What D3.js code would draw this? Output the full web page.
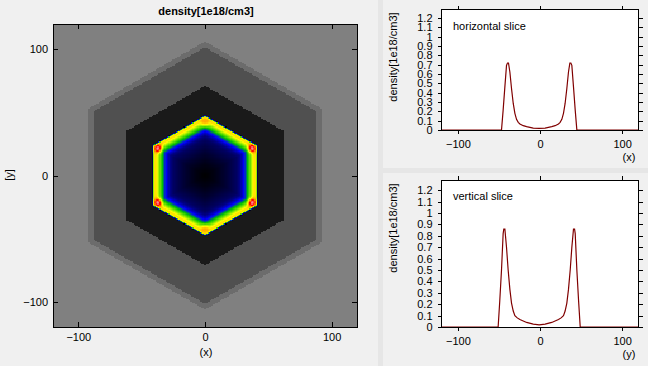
<!DOCTYPE html>
<html><head><meta charset="utf-8">
<script src="https://cdn.jsdelivr.net/npm/d3@7"></script>
<style>
html,body{margin:0;padding:0;background:#f0f0f0;overflow:hidden;}
svg{display:block;font-family:"Liberation Sans",Arial,sans-serif;}
</style></head><body>
<svg id="c" width="648" height="366"></svg>
<script>
// ---------- data ----------
const mapTicks = [-100, 0, 100];
const sliceTicksX = [-100, 0, 100];
const sliceTicksY = [0, 0.1, 0.2, 0.3, 0.4, 0.5, 0.6, 0.7, 0.8, 0.9, 1, 1.1, 1.2];

// horizontal slice (y = 0)
const hSliceX = [-120,-46.9,-44.9,-42.8,-40.8,-39.6,-38.4,-36.7,-34.7,-32.6,-30.6,-28.6,-26.5,-24.5,-20.4,-16.3,-8.2,-1,6.2,14.3,18.4,22.5,24.5,26.6,28.6,30.6,32.7,34.7,36.4,37.6,38.8,40.8,42.9,44.9,120];
const hSliceV = [0,0,0.213,0.462,0.692,0.717,0.717,0.621,0.444,0.284,0.178,0.114,0.082,0.064,0.046,0.036,0.021,0.018,0.021,0.036,0.046,0.064,0.082,0.114,0.178,0.284,0.444,0.621,0.717,0.717,0.692,0.462,0.213,0,0];

// vertical slice (x = 0)
const vSliceY = [-120,-51,-49,-46.9,-44.9,-44.1,-42.8,-40.8,-38.8,-36.7,-34.7,-32.6,-30.6,-27.7,-24.5,-16.3,-8.2,-1,6.2,14.3,22.5,25.7,28.6,30.6,32.7,34.7,36.8,38.8,40.8,42.1,42.9,44.9,47,49,120];
const vSliceV = [0,0,0.23,0.50,0.82,0.86,0.86,0.70,0.50,0.33,0.21,0.14,0.10,0.08,0.065,0.04,0.025,0.018,0.025,0.04,0.065,0.08,0.10,0.14,0.21,0.33,0.50,0.70,0.86,0.86,0.82,0.50,0.23,0,0];

// heat map: density profile across the hexagonal shell (hex distance -> density)
const ringH = [0, 8, 16, 22, 25, 27.5, 29.5, 31.5, 33.5, 35.5, 37.2, 38.8, 40.2, 41, 41.6];
const ringV = [0, 0.01, 0.025, 0.04, 0.05, 0.07, 0.11, 0.18, 0.3, 0.42, 0.55, 0.66, 0.64, 0.2, 0];
// density hot spots at the hexagon corners
const spotAngle = [90, 30, -30, -90, -150, 150];
const spotR     = [41.5, 42.5, 42.5, 41.5, 42.5, 42.5];
const spotAmp   = [0.25, 0.58, 0.58, 0.25, 0.58, 0.58];
// hexagonal zones (apothem) and their fill
const zoneApothem = [41.6, 61.5, 88, 92];
const zoneColor   = [null, "#1a1a1a", "#505050", "#6c6c6c"];
const outsideColor = "#808080";
// colour map
const cmapV = [0, 0.04, 0.09, 0.15, 0.3, 0.45, 0.6, 0.8, 0.95, 1.25];
const cmapC = ["#000000","#000050","#0000a8","#0000ff","#00c000","#80e800","#ffff00","#ff9000","#ff0000","#ffffff"];

// ---------- drawing ----------
const svg = d3.select("#c");
const FONT = 11;

// panel separators
svg.append("rect").attr("x",378).attr("y",0).attr("width",5).attr("height",366).attr("fill","#e6e6e6");
svg.append("rect").attr("x",383).attr("y",168).attr("width",265).attr("height",5).attr("fill","#e6e6e6");

// ===== left heat map =====
const L = {l:53, r:357, t:24, b:327};
const mx = d3.scaleLinear().domain([-120,120]).range([L.l, L.r]);
const my = d3.scaleLinear().domain([-120,120]).range([L.b, L.t]);
const ring = d3.scaleLinear().domain(ringH).range(ringV).clamp(true);
const cmap = d3.scaleLinear().domain(cmapV).range(cmapC).clamp(true);
const S3 = Math.sqrt(3)/2;
const spots = spotAngle.map((a,i)=>({x: spotR[i]*Math.cos(a*Math.PI/180), y: spotR[i]*Math.sin(a*Math.PI/180), a: spotAmp[i]}));

const W = L.r - L.l, H = L.b - L.t;
const cv = document.createElement("canvas");
cv.width = W; cv.height = H;
const ctx = cv.getContext("2d");
const img = ctx.createImageData(W, H);
for (let py = 0; py < H; py++) {
  for (let px = 0; px < W; px++) {
    const x0 = mx.invert(L.l + px + 0.5), y0 = my.invert(L.t + py + 0.5);
    const x = Math.floor(x0) + 0.5, y = Math.floor(y0) + 0.5;
    const h = Math.max(Math.abs(x), Math.abs(x/2 + y*S3), Math.abs(x/2 - y*S3));
    let col;
    if (h <= zoneApothem[0]) {
      let v = ring(h);
      for (const s of spots) {
        const d2 = (x-s.x)*(x-s.x) + (y-s.y)*(y-s.y);
        v += s.a * Math.exp(-d2/8);
      }
      col = cmap(v);
    } else if (h <= zoneApothem[1]) col = zoneColor[1];
    else if (h <= zoneApothem[2]) col = zoneColor[2];
    else if (h <= zoneApothem[3]) col = zoneColor[3];
    else col = outsideColor;
    const c = d3.rgb(col);
    const k = (py*W + px)*4;
    img.data[k] = c.r; img.data[k+1] = c.g; img.data[k+2] = c.b; img.data[k+3] = 255;
  }
}
ctx.putImageData(img, 0, 0);
svg.append("image").attr("x", L.l).attr("y", L.t).attr("width", W).attr("height", H)
  .attr("preserveAspectRatio","none").attr("href", cv.toDataURL());

function styleAxis(g){
  g.select(".domain").remove();
  g.selectAll("line").attr("stroke","#000").attr("shape-rendering","crispEdges");
  g.selectAll("text").attr("font-size",FONT).attr("fill","#000").attr("font-family","'Liberation Sans',Arial,sans-serif");
}
svg.append("g").attr("transform",`translate(0,${L.b})`).call(d3.axisBottom(mx).tickValues(mapTicks).tickSizeInner(-5).tickSizeOuter(0).tickPadding(6)).call(styleAxis);
svg.append("g").attr("transform",`translate(0,${L.t})`).call(d3.axisTop(mx).tickValues(mapTicks).tickSizeInner(-5).tickSizeOuter(0).tickFormat("")).call(styleAxis);
svg.append("g").attr("transform",`translate(${L.l},0)`).call(d3.axisLeft(my).tickValues(mapTicks).tickSizeInner(-5).tickSizeOuter(0).tickPadding(5)).call(styleAxis);
svg.append("g").attr("transform",`translate(${L.r},0)`).call(d3.axisRight(my).tickValues(mapTicks).tickSizeInner(-5).tickSizeOuter(0).tickFormat("")).call(styleAxis);
svg.append("rect").attr("x",L.l).attr("y",L.t).attr("width",W).attr("height",H)
  .attr("fill","none").attr("stroke","#000").attr("shape-rendering","crispEdges");

svg.append("text").attr("x",206).attr("y",15).attr("text-anchor","middle")
  .attr("font-size",FONT).attr("font-weight","bold").text("density[1e18/cm3]");
svg.append("text").attr("x",206).attr("y",356).attr("text-anchor","middle").attr("font-size",FONT).text("(x)");
svg.append("text").attr("transform","translate(13,175) rotate(-90)").attr("text-anchor","middle").attr("font-size",FONT).text("[y]");

// ===== slice plots =====
function slicePlot(top, bottom, xs, vs, title, xlabel, labelCy){
  const P = {l:441.5, r:638.5, t:top, b:bottom};
  const sx = d3.scaleLinear().domain([-120,120]).range([P.l, P.r]);
  const sy = d3.scaleLinear().domain([0,1.29]).range([P.b, P.t]);
  svg.append("rect").attr("x",P.l).attr("y",P.t).attr("width",P.r-P.l).attr("height",P.b-P.t)
    .attr("fill","#fff");
  const fmt = d => String(+d.toFixed(1));
  svg.append("g").attr("transform",`translate(0,${P.b})`).call(d3.axisBottom(sx).tickValues(sliceTicksX).tickSizeInner(4).tickSizeOuter(0).tickPadding(6)).call(styleAxis);
  svg.append("g").attr("transform",`translate(0,${P.t})`).call(d3.axisTop(sx).tickValues(sliceTicksX).tickSizeInner(4).tickSizeOuter(0).tickFormat("")).call(styleAxis);
  svg.append("g").attr("transform",`translate(${P.l},0)`).call(d3.axisLeft(sy).tickValues(sliceTicksY).tickFormat(fmt).tickSizeInner(4).tickSizeOuter(0).tickPadding(5)).call(styleAxis);
  svg.append("g").attr("transform",`translate(${P.r},0)`).call(d3.axisRight(sy).tickValues(sliceTicksY).tickSizeInner(4).tickSizeOuter(0).tickFormat("")).call(styleAxis);
  const clipId = "clip" + Math.round(top);
  svg.append("clipPath").attr("id",clipId).append("rect")
    .attr("x",P.l).attr("y",P.t).attr("width",P.r-P.l).attr("height",P.b-P.t);
  const line = d3.line().x((d,i)=>sx(xs[i])).y((d,i)=>sy(vs[i]));
  svg.append("path").datum(vs).attr("d", line).attr("fill","none")
    .attr("stroke","#800000").attr("stroke-width",1.2).attr("clip-path",`url(#${clipId})`);
  svg.append("rect").attr("x",P.l).attr("y",P.t).attr("width",P.r-P.l).attr("height",P.b-P.t)
    .attr("fill","none").attr("stroke","#000").attr("shape-rendering","crispEdges");
  svg.append("text").attr("x",453).attr("y",P.t+20).attr("font-size",FONT).text(title);
  svg.append("text").attr("x",629).attr("y",P.b+31).attr("text-anchor","middle").attr("font-size",FONT).text(xlabel);
  svg.append("text").attr("transform",`translate(397,${labelCy}) rotate(-90)`).attr("text-anchor","middle")
    .attr("font-size",FONT).text("density[1e18/cm3]");
}
slicePlot(9.5, 130, hSliceX, hSliceV, "horizontal slice", "(x)", 57);
slicePlot(180, 327, vSliceY, vSliceV, "vertical slice", "(y)", 228);
</script>
</body></html>
